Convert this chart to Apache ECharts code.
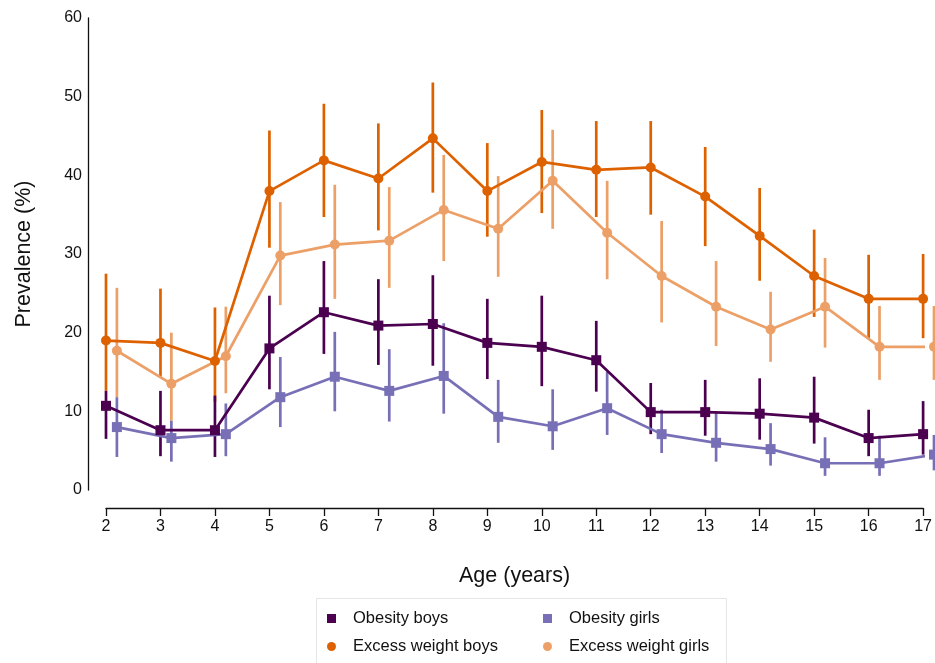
<!DOCTYPE html>
<html>
<head>
<meta charset="utf-8">
<script src="https://cdn.jsdelivr.net/npm/echarts@6/dist/echarts.min.js"></script>
<style>html,body{margin:0;padding:0;background:#fff;}#c{width:935px;height:663px;}</style>
</head>
<body>
<div id="c"></div>
<script>
const ages = [2,3,4,5,6,7,8,9,10,11,12,13,14,15,16,17];
const xTicks = ['2','3','4','5','6','7','8','9','10','11','12','13','14','15','16','17'];

const obBoys   = [10.7,7.6,7.6,18.0,22.6,20.9,21.1,18.7,18.2,16.5,9.9,9.9,9.7,9.2,6.6,7.1];
const obBoysLo = [6.5,4.3,4.2,12.8,17.3,15.9,15.8,14.1,13.2,12.5,7.1,6.9,6.4,5.9,4.3,4.5];
const obBoysHi = [12.6,12.6,12.0,24.7,29.1,26.8,27.3,24.3,24.7,21.5,13.6,14.0,14.2,14.4,10.2,11.3];

const obGirls   = [8.0,6.6,7.1,11.8,14.4,12.6,14.5,9.3,8.1,10.4,7.1,6.0,5.2,3.4,3.4,4.5];
const obGirlsLo = [4.2,3.6,4.3,8.0,10.0,8.7,9.7,6.0,5.1,7.0,4.7,3.6,3.1,1.8,1.8,2.5];
const obGirlsHi = [11.8,8.8,11.0,16.9,20.1,17.9,21.2,14.0,12.8,15.0,10.2,9.8,8.5,6.7,6.9,7.0];

const exBoys   = [19.0,18.7,16.4,38.0,41.9,39.6,44.7,38.0,41.7,40.7,41.0,37.3,32.3,27.2,24.3,24.3];
const exBoysLo = [12.6,14.4,11.2,30.8,34.7,33.0,37.8,32.2,35.2,34.7,35.0,31.0,26.6,22.0,19.3,19.3];
const exBoysHi = [27.5,25.6,23.2,45.7,49.1,46.6,51.8,44.1,48.3,46.9,46.9,43.6,38.4,33.1,29.9,30.0];

const exGirls   = [17.7,13.5,17.0,29.8,31.2,31.7,35.6,33.2,39.3,32.7,27.2,23.3,20.4,23.3,18.2,18.2];
const exGirlsLo = [11.8,8.8,12.3,23.5,24.3,25.7,29.1,27.1,33.2,26.8,21.3,18.3,16.3,18.1,14.0,14.0];
const exGirlsHi = [25.7,20.0,23.3,36.6,38.8,38.5,42.6,39.9,45.8,39.3,34.2,29.1,25.2,29.5,23.4,23.4];

const GIRL_SHIFT = 0.2;
const C_OB_B = '#4b0050';
const C_OB_G = '#7870b6';
const C_EX_B = '#de6100';
const C_EX_G = '#eca067';
const FONT = 'Liberation Sans, Arial, Helvetica, sans-serif';

function pts(vals, shift) { return ages.map((a, i) => [a + shift, vals[i]]); }
function ci(lo, hi, shift) { return ages.map((a, i) => [a + shift, lo[i], hi[i]]); }

function ciSeries(name, data, color) {
  return {
    name: name, type: 'custom', data: data, clip: false, silent: true,
    encode: { x: 0, y: [1, 2] },
    renderItem: function (params, api) {
      const x = api.value(0);
      const p1 = api.coord([x, api.value(1)]);
      const p2 = api.coord([x, api.value(2)]);
      return { type: 'line', shape: { x1: p1[0], y1: p1[1], x2: p2[0], y2: p2[1] },
        style: { stroke: color, lineWidth: 2.7 } };
    }
  };
}
function lineSeries(name, data, color, symbol, size) {
  return {
    name: name, type: 'line', data: data, clip: false, symbol: symbol, symbolSize: size,
    showAllSymbol: true,
    itemStyle: { color: color }, lineStyle: { color: color, width: 2.7 },
    emphasis: { disabled: true }, animation: false
  };
}
function legendAt(name, icon, left, top) {
  return {
    data: [{ name: name, icon: icon }], left: left, top: top, padding: 0,
    itemWidth: 9, itemHeight: 9, selectedMode: false,
    textStyle: { fontSize: 16.5, color: '#111', fontFamily: FONT, padding: [0, 0, 0, 12] }
  };
}

const chart = echarts.init(document.getElementById('c'), null, { renderer: 'canvas' });
chart.setOption({
  animation: false,
  backgroundColor: '#fff',
  grid: { left: 106, right: 10, top: 18, bottom: 173 },
  xAxis: {
    type: 'value', min: 2, max: 17, interval: 1, offset: 18,
    name: 'Age (years)', nameLocation: 'middle', nameGap: 57,
    nameTextStyle: { fontSize: 21.5, color: '#111', fontFamily: FONT },
    axisLine: { show: true, onZero: false, lineStyle: { color: '#111', width: 1.3 } },
    axisTick: { show: true, length: 8, lineStyle: { color: '#111', width: 1.3 } },
    axisLabel: { fontSize: 16, color: '#111', fontFamily: FONT, margin: 11,
      formatter: function (v) { return xTicks[ages.indexOf(v)]; } },
    splitLine: { show: false }
  },
  yAxis: {
    type: 'value', min: 0, max: 60, interval: 10, offset: 18,
    name: 'Prevalence (%)', nameLocation: 'middle', nameGap: 53,
    nameTextStyle: { fontSize: 21.5, color: '#111', fontFamily: FONT },
    axisLine: { show: true, onZero: false, lineStyle: { color: '#111', width: 1.3 } },
    axisTick: { show: false },
    axisLabel: { fontSize: 16, color: '#111', fontFamily: FONT, margin: 6 },
    splitLine: { show: false }
  },
  graphic: [{
    type: 'rect', left: 316, top: 598, z: -10,
    shape: { width: 410, height: 80 },
    style: { fill: '#fff', stroke: '#e2e6e6', lineWidth: 1 }
  }],
  legend: [
    legendAt('Obesity boys', 'rect', 327, 610),
    legendAt('Obesity girls', 'rect', 543, 610),
    legendAt('Excess weight boys', 'circle', 327, 638),
    legendAt('Excess weight girls', 'circle', 543, 638)
  ],
  series: [
    ciSeries('exBoysCI', ci(exBoysLo, exBoysHi, 0), C_EX_B),
    lineSeries('Excess weight boys', pts(exBoys, 0), C_EX_B, 'circle', 10),
    ciSeries('exGirlsCI', ci(exGirlsLo, exGirlsHi, GIRL_SHIFT), C_EX_G),
    lineSeries('Excess weight girls', pts(exGirls, GIRL_SHIFT), C_EX_G, 'circle', 10),
    ciSeries('obBoysCI', ci(obBoysLo, obBoysHi, 0), C_OB_B),
    lineSeries('Obesity boys', pts(obBoys, 0), C_OB_B, 'rect', 10),
    ciSeries('obGirlsCI', ci(obGirlsLo, obGirlsHi, GIRL_SHIFT), C_OB_G),
    lineSeries('Obesity girls', pts(obGirls, GIRL_SHIFT), C_OB_G, 'rect', 10)
  ]
});
</script>
</body>
</html>
